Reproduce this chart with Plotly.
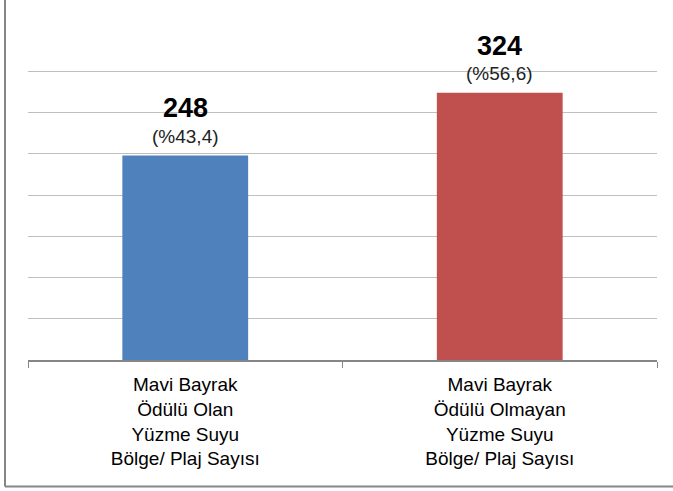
import plotly.graph_objects as go

categories = [
    "Mavi Bayrak<br>Ödülü Olan<br>Yüzme Suyu<br>Bölge/ Plaj Sayısı",
    "Mavi Bayrak<br>Ödülü Olmayan<br>Yüzme Suyu<br>Bölge/ Plaj Sayısı",
]
values = [248, 324]
percent_labels = ["(%43,4)", "(%56,6)"]
bar_colors = ["#4F81BD", "#C0504D"]

W, H = 673, 491
ML, MR, MT, MB = 28, 16, 30, 131

fig = go.Figure()
fig.add_trace(go.Bar(
    x=categories, y=values,
    marker=dict(color=bar_colors, line=dict(width=0)),
    width=0.4, hoverinfo="skip",
))

font_family = "Liberation Sans, Arial, sans-serif"
for c, v, p in zip(categories, values, percent_labels):
    fig.add_annotation(x=c, y=v, text=f"<b>{v}</b>", showarrow=False,
                       yanchor="middle", yshift=47,
                       font=dict(family=font_family, size=27, color="#000000"))
    fig.add_annotation(x=c, y=v, text=p, showarrow=False,
                       yanchor="middle", yshift=19,
                       font=dict(family=font_family, size=19, color="#222222"))

pw = W - ML - MR
ph = H - MT - MB
def px_x(x):
    return (x - ML) / pw
def px_y(y):
    return (H - MB - y) / ph

# outer frame (left and bottom edges visible)
fig.add_shape(type="line", xref="paper", yref="paper",
              x0=px_x(5), x1=px_x(673), y0=px_y(486.5), y1=px_y(486.5),
              line=dict(color="#868686", width=2))
fig.add_shape(type="line", xref="paper", yref="paper",
              x0=px_x(5), x1=px_x(5), y0=px_y(0), y1=px_y(486.5),
              line=dict(color="#868686", width=2))

fig.update_layout(
    width=W, height=H,
    margin=dict(l=ML, r=MR, t=MT, b=MB, pad=0),
    paper_bgcolor="white", plot_bgcolor="white",
    showlegend=False,
    font=dict(family=font_family, color="#000000"),
    xaxis=dict(
        showline=True, linecolor="#868686", linewidth=1.5,
        ticks="outside", tickson="boundaries", ticklen=6, tickcolor="#868686",
        tickfont=dict(family=font_family, size=19, color="#000000"),
        ticklabelstandoff=7,
        showgrid=False,
    ),
    yaxis=dict(
        range=[0, 400], dtick=50, showticklabels=False,
        showgrid=True, gridcolor="#bfbfbf", gridwidth=1,
        zeroline=False, showline=False, ticks="",
    ),
)

fig.write_html("out.html",
               config={"displayModeBar": False, "staticPlot": True},
               post_script="document.body.style.margin='0';document.body.style.overflow='hidden';")
